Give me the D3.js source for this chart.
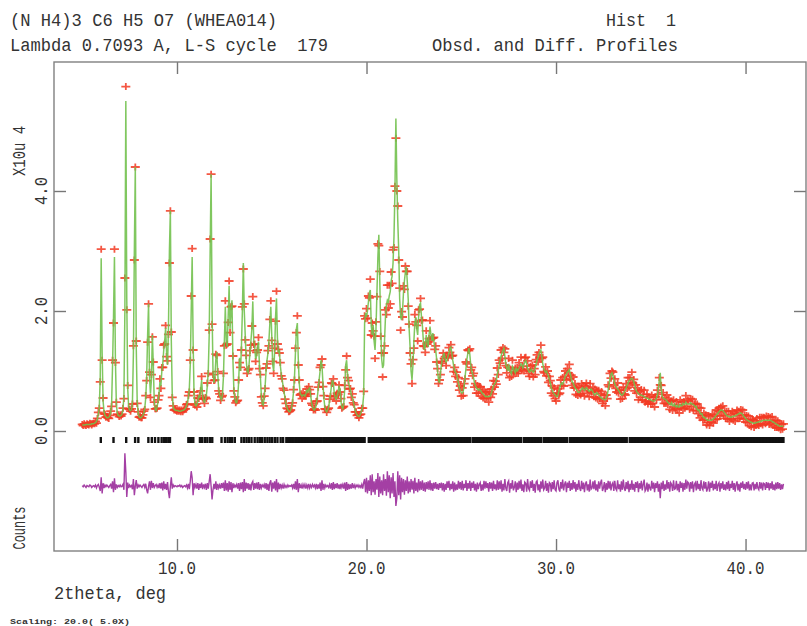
<!DOCTYPE html>
<html>
<head>
<meta charset="utf-8">
<script src="https://cdn.jsdelivr.net/npm/d3@7/dist/d3.min.js"></script>
<style>
  body { margin: 0; background: #fff; }
  text { font-family: 'Liberation Mono', 'DejaVu Sans Mono', monospace; fill: #333; white-space: pre; }
</style>
</head>
<body>
<script>
// profile sampled every 0.05 deg from 5.00, values in 0.01 x 10^4 counts
const startTheta = 5.0;
const stepTheta = 0.05;

// calculated profile (green line), one row per degree
const calcLow = [
  10,10,10,10,11,11,11,11,11,11,12,12,12,13,14,16,20,28,40,90,
  288,130,50,32,26,24,22,22,23,25,30,45,110,190,290,120,45,30,26,25,
  25,26,28,35,60,200,550,220,70,40,34,34,36,50,130,300,440,140,50,30,
  24,22,22,24,26,30,38,55,90,160,212,90,62,85,160,110,50,36,34,40,
  50,62,82,75,100,113,135,150,172,130,110,170,300,367,150,60,40,36,35,34,
  34,34,33,33,33,34,34,35,36,38,42,48,55,70,110,200,290,150,60,45,
  42,44,50,60,55,70,85,60,50,48,52,60,75,100,160,300,428,200,100,80,
  90,120,132,95,70,60,55,52,62,90,150,207,150,140,190,242,170,200,218,120
];
const calcMid = [
  70,55,48,47,55,80,122,100,140,200,280,200,160,120,100,97,110,130,150,170,
  216,150,140,120,125,140,149,110,90,60,45,43,55,75,100,118,130,150,180,207,
  160,110,100,130,190,221,155,130,135,110,95,85,75,65,55,45,40,35,33,32,
  35,40,50,65,90,130,170,180,120,80,63,60,58,60,60,58,62,68,65,70,
  72,60,48,40,36,35,38,45,55,70,85,100,118,110,80,55,40,34,32,35,
  40,50,62,75,85,80,62,55,53,58,65,74,70,50,40,37,45,70,110,118,
  95,80,75,68,60,57,50,42,35,30,27,25,24,26,30,35,42,60,180,197
];
const calcPeak = [
  190,200,215,230,235,175,160,177,150,135,170,230,290,327,250,170,120,105,110,150,
  190,210,218,215,225,232,250,258,280,324,400,521,420,350,300,220,190,185,200,230,
  250,265,274,250,220,170,140,100,85,110,150,180,190,170,160,190,210,213,190,175,
  150,135,140,160,150,140,160,174,160,150,163,150,140,135,120,100,85,80,97,110,
  120,125,130,120,115,118,125,130,138,140,130,118,108,100,98,95,88,80,72,68,
  64,63,66,75,90,105,120,130,138,128,110,100,95,88,80,75,72,70,68,70,
  68,66,63,62,60,58,57,58,57,57,58,60,64,70,75,78,80,85,95,100
];
const calcHigh = [
  110,118,125,130,135,138,125,112,105,100,112,100,98,95,108,105,100,97,106,100,
  102,105,108,112,110,105,110,115,118,112,105,100,98,100,103,100,98,100,105,112,
  118,122,128,132,135,125,112,105,100,98,100,95,92,85,80,72,68,64,62,60,
  58,57,60,66,72,78,80,78,82,88,92,95,98,100,102,95,88,82,80,76,
  72,70,68,65,64,65,68,70,72,70,68,70,72,70,68,66,68,70,68,65,
  62,60,62,64,62,60,58,56,55,54,53,52,52,55,60,68,78,88,95,97,
  92,85,78,75,72,70,68,65,62,60,60,62,65,68,72,76,80,83,85,87
];
const calcTail = [
  88,86,82,76,70,66,64,62,61,60,60,59,58,57,56,55,55,54,53,52,
  52,51,50,50,50,52,55,60,70,85,97,70,58,55,54,53,52,50,48,46,
  45,44,47,42,42,45,41,40,43,40,40,44,42,42,46,44,44,48,45,45,
  45,45,47,45,45,44,42,40,41,36,34,35,30,28,29,24,22,23,20,19,
  18,18,18,18,18,19,20,22,24,26,28,30,32,34,35,35,34,32,30,28,
  26,25,24,24,23,23,24,24,25,25,26,27,28,29,30,30,29,27,25,23,
  21,19,18,17,16,15,14,14,13,13,13,14,14,15,15,16,16,17,17,18,
  18,18,18,18,18,18,18,17,16,15,14,13,12,11,10,9,8,8,8,8,8
];

// obs - calc (purple curve), same grid
const diffLow = [
  1,-1,2,0,-2,1,0,-1,2,1,-2,0,1,-1,2,-3,1,3,-2,-8,
  15,-12,5,-3,2,-1,2,0,-2,1,3,-4,8,-10,13,-6,3,-2,1,-1,
  2,-1,0,3,-6,55,24,-18,6,-3,2,-1,1,-5,12,-15,0,10,-4,2,
  -1,2,0,-2,1,3,-2,4,-6,-12,0,8,-6,9,-3,5,-2,1,3,-2,
  2,-3,5,-4,6,-7,8,-5,4,-6,7,-9,-20,0,15,-4,2,-1,1,0,
  -1,1,0,2,-1,1,-2,0,1,-1,2,-3,4,-5,8,25,14,-15,5,-2,
  3,-4,5,-6,4,-3,6,-5,3,-2,4,-6,5,-4,8,20,0,-22,-6,4,
  -5,8,-6,4,-3,2,-4,5,-3,6,-8,10,-7,5,-9,8,-6,7,-10,5
];
const diffMid = [
  -3,2,-1,3,-4,5,-8,6,-5,7,-10,12,-8,6,-4,5,-6,4,-7,5,
  8,-6,5,-4,6,-5,7,-6,4,-3,2,-1,3,-4,5,-6,4,-8,6,10,
  -9,6,-4,8,-7,12,-10,6,-5,4,-3,2,-4,3,-2,1,-2,2,-1,1,
  0,2,-3,4,-5,8,-6,12,-10,5,-3,2,-4,3,-2,3,-4,2,-3,4,
  -3,2,-2,3,-1,2,-3,4,-5,3,-4,6,-8,10,-6,4,-3,2,-1,1,
  -2,3,-4,5,-6,7,-5,4,-3,5,-4,3,-5,4,-2,3,-4,6,-8,7,
  -6,4,-5,3,-4,5,-3,2,-3,2,-1,2,-2,1,-2,3,-4,6,12,-10
];
const diffPeak = [
  14,-12,10,-8,18,-15,20,-10,8,-14,12,-6,22,-18,16,-12,10,-15,20,-8,
  12,-16,25,-10,18,-20,15,-12,22,-18,8,-33,-20,25,-15,18,-22,14,-10,12,
  -14,10,-8,16,-12,8,-10,12,-6,9,-12,14,-8,6,-10,12,-7,8,-6,10,
  -8,6,-9,7,-5,8,-6,10,-7,5,-8,6,-4,7,-5,4,-6,5,-3,6,
  -7,5,-9,4,-6,8,-3,9,-7,4,-5,8,-9,6,-7,3,-6,9,-4,7,
  -6,9,-7,4,-3,10,-8,5,-4,9,-8,6,-3,8,-7,4,-9,6,-5,3,
  6,-8,3,-7,9,-4,8,-3,5,-9,7,-4,6,-8,9,-5,3,-7,10,-6
];
const diffHigh = [
  8,-5,10,-9,4,-7,12,-3,-8,6,9,-11,5,-4,10,-7,-2,8,-10,6,
  -6,9,-4,11,-8,3,-10,7,5,-9,12,-4,-7,8,-3,10,-8,4,-11,7,
  9,-7,3,-10,8,-4,11,-6,-3,9,-8,5,-11,6,4,-9,7,-5,10,-6,
  -8,6,10,-5,-9,7,-4,11,-7,3,8,-10,6,-3,9,-8,5,-6,10,-4,
  7,-9,4,-6,10,-3,-8,9,-5,6,-10,4,8,-7,3,-9,11,-5,-3,8,
  -5,10,-7,3,-9,8,-4,6,11,-8,-3,7,-10,5,-6,9,-4,8,-7,3,
  6,-8,9,-4,-7,10,-5,3,-9,8,-6,11,-3,-8,7,-5,9,-10,4,-6
];
const diffTail = [
  10,-6,4,-9,7,-3,8,-10,5,-4,9,-7,3,11,-8,-5,6,-9,4,-3,
  -7,9,-4,6,-10,5,-3,8,-9,4,-20,6,-5,9,-8,3,-6,10,-4,7,
  -9,6,3,-8,10,-5,-4,9,-7,4,-10,8,-3,6,-9,5,-6,11,-4,7,
  5,-9,7,-4,8,-10,3,6,-7,9,-5,4,-8,10,-3,-6,8,-4,7,-9,
  -4,8,-9,6,-3,9,-7,4,-5,9,-8,3,6,-9,5,-4,8,-6,3,-7,
  7,-5,9,-8,4,-3,9,-6,5,-9,3,8,-7,4,-9,6,-3,8,-5,4,
  -6,7,-4,8,-7,3,-7,5,6,-7,4,-5,7,-3,-6,7,-4,6,-7,5,
  4,-6,7,-3,6,-7,5,-4,8,-6,3,-7,6,-5,7,-4,5,-6,3,-5,4
];

// reflection positions (2theta)
const reflLow = [5.98,6.65,7.32,7.79,7.96,8.49,8.67,8.84,9.02,9.19,9.32,9.42,9.54,9.63,
  10.60,10.68,10.77,10.86,11.21,11.33,11.47,11.60,11.74,11.86,12.35,12.53,12.67,12.79,12.91,13.05,
  13.40,13.54,13.67,13.79,13.93,14.10,14.25,14.37,14.49,14.63,14.77,14.89,15.02,15.16,15.30,15.47,15.60,15.77,15.85,15.92];
const reflHigh = [
  16.00,16.07,16.15,16.24,16.31,16.38,16.46,16.55,16.62,16.70,16.78,16.85,16.93,
  17.01,17.08,17.17,17.25,17.32,17.40,17.49,17.56,17.63,17.72,17.80,17.87,17.95,
  18.03,18.10,18.19,18.26,18.34,18.42,18.50,18.57,18.66,18.73,18.81,18.89,18.96,
  19.05,19.12,19.20,19.28,19.35,19.44,19.51,19.59,19.67,19.74,19.82,19.90,
  20.12,20.20,20.27,20.35,20.43,20.50,20.58,20.66,20.73,20.81,20.89,20.96,
  21.04,21.11,21.19,21.27,21.34,21.42,21.50,21.57,21.65,21.73,21.80,21.88,21.95,
  22.03,22.11,22.18,22.26,22.34,22.41,22.49,22.57,22.64,22.72,22.80,22.87,22.95,
  23.02,23.10,23.18,23.25,23.33,23.41,23.48,23.56,23.64,23.71,23.79,23.87,23.94,
  24.02,24.10,24.17,24.25,24.33,24.40,24.48,24.56,24.63,24.71,24.79,24.86,24.94,
  25.02,25.09,25.17,25.25,25.32,25.40,25.48,25.62,25.70,25.78,25.85,25.93,
  26.01,26.08,26.16,26.24,26.31,26.39,26.47,26.54,26.62,26.70,26.77,26.85,26.93,
  27.00,27.08,27.16,27.23,27.31,27.39,27.46,27.54,27.62,27.69,27.77,27.85,27.92,
  28.00,28.08,28.15,28.30,28.38,28.45,28.53,28.61,28.68,28.76,28.84,28.91,28.99,
  29.07,29.14,29.22,29.36,29.44,29.52,29.59,29.67,29.75,29.82,29.90,29.98,
  30.05,30.13,30.21,30.28,30.36,30.44,30.51,30.59,30.74,30.82,30.90,30.97,
  31.05,31.13,31.20,31.28,31.36,31.43,31.51,31.59,31.66,31.74,31.82,31.89,31.97,
  32.05,32.12,32.20,32.28,32.35,32.43,32.51,32.58,32.66,32.74,32.81,32.89,32.97,
  33.04,33.12,33.20,33.27,33.35,33.43,33.50,33.58,33.66,33.73,33.89,33.96,
  34.04,34.12,34.19,34.27,34.35,34.42,34.50,34.58,34.65,34.73,34.81,34.88,34.96,
  35.04,35.11,35.19,35.27,35.34,35.42,35.50,35.57,35.65,35.73,35.80,35.88,35.96,
  36.03,36.11,36.19,36.26,36.34,36.42,36.49,36.57,36.65,36.72,36.80,36.88,36.95,
  37.03,37.11,37.18,37.26,37.34,37.41,37.49,37.57,37.64,37.72,37.80,37.87,37.95,
  38.03,38.10,38.18,38.26,38.33,38.41,38.49,38.56,38.64,38.72,38.79,38.87,38.95,
  39.02,39.10,39.18,39.25,39.33,39.41,39.48,39.56,39.64,39.71,39.79,39.87,39.94,
  40.02,40.10,40.17,40.25,40.33,40.40,40.48,40.56,40.63,40.71,40.79,40.86,40.94,
  41.02,41.09,41.17,41.25,41.32,41.40,41.48,41.55,41.63,41.71,41.78,41.86,41.94,42.00
];

const xTicks = [10, 20, 30, 40];
const xTickLabels = ['10.0', '20.0', '30.0', '40.0'];
const yTicks = [0, 2, 4];
const yTickLabels = ['0.0', '2.0', '4.0'];
const diffOffset = -0.92;  // where the difference curve sits

const width = 807;
const height = 626;
const frame = { left: 54, right: 806, top: 62, bottom: 551 };

const calc = [].concat(calcLow, calcMid, calcPeak, calcHigh, calcTail);
const diff = [].concat(diffLow, diffMid, diffPeak, diffHigh, diffTail);
const refl = reflLow.concat(reflHigh);

const points = calc.map((c, i) => ({
  t: startTheta + i * stepTheta,
  calc: c / 100,
  obs: (c + diff[i]) / 100,
  diff: diff[i] / 100
}));

const xScale = d3.scaleLinear()
  .domain([3.51, 43.19])
  .range([frame.left, frame.right]);

const yScale = d3.scaleLinear()
  .domain([-2.0, 6.15])
  .range([frame.bottom, frame.top]);

const svg = d3.select('body')
  .append('svg')
  .attr('width', width)
  .attr('height', height);

function addText(txt, x, y, len, size, anchor, rotate) {
  const t = svg.append('text')
    .attr('font-size', size)
    .attr('text-anchor', anchor || 'start')
    .attr('textLength', len)
    .attr('lengthAdjust', 'spacingAndGlyphs')
    .text(txt);
  if (rotate) {
    t.attr('transform', 'translate(' + x + ',' + y + ') rotate(-90)');
  } else {
    t.attr('x', x).attr('y', y);
  }
  return t;
}

// header lines
addText('(N H4)3 C6 H5 O7 (WHEA014)', 10, 26, 267, 18);
addText('Hist  1', 606, 26, 70, 18);
addText('Lambda 0.7093 A, L-S cycle  179', 10, 51, 318, 18);
addText('Obsd. and Diff. Profiles', 432, 51, 246, 18);

svg.append('clipPath').attr('id', 'plotclip')
  .append('rect')
  .attr('x', frame.left).attr('y', frame.top)
  .attr('width', frame.right - frame.left).attr('height', frame.bottom - frame.top);

const plot = svg.append('g').attr('clip-path', 'url(#plotclip)');

// reflection markers
plot.append('g')
  .selectAll('line')
  .data(refl)
  .enter()
  .append('line')
  .attr('x1', (d) => xScale(d))
  .attr('x2', (d) => xScale(d))
  .attr('y1', yScale(-0.1))
  .attr('y2', yScale(-0.2))
  .attr('stroke', '#111')
  .attr('stroke-width', 2.4);

// observed points
plot.append('g')
  .selectAll('path')
  .data(points)
  .enter()
  .append('path')
  .attr('d', 'M-4.5,0H4.5M0,-3.5V3.5')
  .attr('transform', (d) => 'translate(' + xScale(d.t) + ',' + yScale(d.obs) + ')')
  .attr('stroke', '#f23a22')
  .attr('stroke-width', 1.8)
  .attr('stroke-opacity', 0.85)
  .attr('fill', 'none');

// calculated profile
const line = d3.line()
  .x((d) => xScale(d.t))
  .y((d) => yScale(d.calc));

plot.append('path')
  .datum(points)
  .attr('d', line)
  .attr('fill', 'none')
  .attr('stroke', '#72c14e')
  .attr('stroke-width', 1.5)
  .attr('stroke-opacity', 0.9);

// difference curve
const diffLine = d3.line()
  .x((d) => xScale(d.t))
  .y((d) => yScale(diffOffset + d.diff));

plot.append('path')
  .datum(points)
  .attr('d', diffLine)
  .attr('fill', 'none')
  .attr('stroke', '#a43fa4')
  .attr('stroke-width', 1.4);

// axes: inward ticks on all four sides, labels placed by hand below
function styleAxis(g) {
  g.select('.domain').remove();
  g.selectAll('.tick line').attr('stroke', '#777').attr('stroke-width', 1.4);
  g.selectAll('.tick text').remove();
}

svg.append('g')
  .attr('transform', 'translate(0,' + frame.bottom + ')')
  .call(d3.axisBottom(xScale).tickValues(xTicks).tickSize(-12))
  .call(styleAxis);

svg.append('g')
  .attr('transform', 'translate(0,' + frame.top + ')')
  .call(d3.axisTop(xScale).tickValues(xTicks).tickSize(-12))
  .call(styleAxis);

svg.append('g')
  .attr('transform', 'translate(' + frame.left + ',0)')
  .call(d3.axisLeft(yScale).tickValues(yTicks).tickSize(-12))
  .call(styleAxis);

svg.append('g')
  .attr('transform', 'translate(' + frame.right + ',0)')
  .call(d3.axisRight(yScale).tickValues(yTicks).tickSize(-12))
  .call(styleAxis);

svg.append('rect')
  .attr('x', frame.left)
  .attr('y', frame.top)
  .attr('width', frame.right - frame.left)
  .attr('height', frame.bottom - frame.top)
  .attr('fill', 'none')
  .attr('stroke', '#808080')
  .attr('stroke-width', 1.4);

// tick labels
xTicks.forEach((v, i) => {
  addText(xTickLabels[i], xScale(v), 574, 38, 18, 'middle');
});
yTicks.forEach((v, i) => {
  addText(yTickLabels[i], 47, yScale(v), 28, 18, 'middle', true);
});

addText('2theta, deg', 54, 599, 112, 18);
addText('X10u 4', 25, 151, 50, 18, 'middle', true);
addText('Counts', 25, 528, 43, 18, 'middle', true);
addText('Scaling: 20.0( 5.0X)', 10, 624, 120, 8).attr('font-weight', 'bold');
</script>
</body>
</html>
